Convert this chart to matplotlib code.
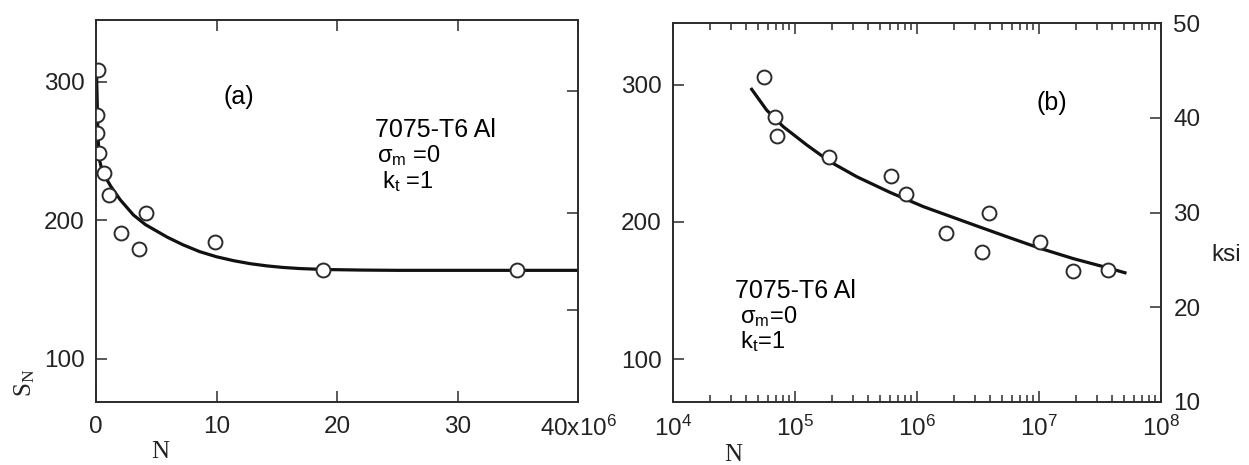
import matplotlib
matplotlib.use("Agg")
import matplotlib.pyplot as plt
from matplotlib.ticker import LogLocator, NullFormatter

plt.rcParams['font.family'] = ['Liberation Sans', 'DejaVu Sans']
plt.rcParams['mathtext.fontset'] = 'custom'
plt.rcParams['mathtext.rm'] = 'Liberation Sans'
plt.rcParams['mathtext.it'] = 'Liberation Sans:italic'
plt.rcParams['mathtext.default'] = 'regular'

# ---- data (a): linear N axis, N in millions of cycles, S in MPa
a_test_n = [0.14, 0.11, 0.11, 0.22, 0.69, 1.08, 4.12, 2.05, 3.59, 9.88, 18.8, 34.9]
a_test_s = [308.7, 276.2, 263.4, 248.9, 234.1, 218.4, 205.6, 190.8, 179.2, 184.3, 164.3, 164.3]
a_fit_n = [0.05, 0.15, 0.25, 0.5, 0.8, 1.2, 2.0, 3.1, 4.1, 5.9, 7.2, 8.6, 10.0, 11.4, 12.8,
           14.2, 15.5, 16.9, 19, 22, 25, 32, 40]
a_fit_s = [303, 265, 245, 236, 231, 225, 215, 204, 197, 188, 182.5, 177.5, 173.8, 171, 168.8,
           167.2, 166.1, 165.3, 164.6, 164.2, 164, 164, 164]

# ---- data (b): log N axis
b_test_n = [5.57e4, 6.86e4, 7.16e4, 1.91e5, 6.12e5, 8.07e5, 1.72e6, 3.87e6, 3.39e6,
            1.02e7, 1.89e7, 3.70e7]
b_test_s = [305.7, 276.1, 262.7, 247.5, 233.6, 220.3, 192.2, 206.3, 178.3, 185.4, 164.3, 165.0]
b_fit_n = [4.42e4, 5.86e4, 8.02e4, 1.25e5, 1.94e5, 3.21e5, 6.01e5, 1.13e6, 2.11e6, 2.89e6,
           5.43e6, 1.02e7, 1.91e7, 3.59e7, 5.07e7]
b_fit_s = [296.5, 281.4, 269.3, 256.0, 243.8, 232.9, 221.5, 211.1, 202.4, 198.0,
           189.3, 180.8, 173.3, 166.8, 163.0]

KSI = 6.895
ksi_lim = (10, 50)
s_lim = (ksi_lim[0] * KSI, ksi_lim[1] * KSI)
s_ticks = [100, 200, 300]
ksi_ticks = [10, 20, 30, 40, 50]
a_ksi_marks = [19.6, 29.8, 42.6]
a_xticks = [0, 10, 20, 30, 40]
a_xlabels = ['0', '10', '20', '30', '40x10$^{6}$']

ink = '#2b2b2b'
txt = '#222222'
fig = plt.figure(figsize=(12.49, 4.65), dpi=100)
axa = fig.add_axes([0.0769, 0.1355, 0.3859, 0.8215])
axb = fig.add_axes([0.5388, 0.1355, 0.3907, 0.8150])

for ax in (axa, axb):
    for sp in ax.spines.values():
        sp.set_linewidth(1.2)
        sp.set_color(ink)
    ax.set_ylim(*s_lim)
    ax.set_yticks(s_ticks)
    ax.tick_params(which='both', direction='in', top=True, right=False,
                   colors=ink, labelcolor=txt, labelsize=17.5, width=1.1)
    ax.tick_params(axis='y', which='major', length=8, pad=8)
    ax.tick_params(axis='x', which='major', length=8, pad=10)
    ax.tick_params(axis='x', which='minor', length=5)

# panel (a)
axa.plot(a_fit_n, a_fit_s, color='#111111', lw=2.3, zorder=2)
axa.plot(a_test_n, a_test_s, 'o', ms=10, mfc='white', mec=ink, mew=1.4, zorder=3)
axa.set_xlim(0, 40)
axa.set_xticks(a_xticks)
axa.set_xticklabels(a_xlabels)
tw = axa.twinx()
tw.set_ylim(*ksi_lim)
tw.set_yticks(a_ksi_marks)
tw.set_yticklabels([])
tw.tick_params(direction='in', length=8, width=1.1, colors=ink)
for sp in tw.spines.values():
    sp.set_linewidth(1.2)
    sp.set_color(ink)

axa.text(0.297, 0.798, '(a)', transform=axa.transAxes, fontsize=18, ha='center', va='center')
axa.text(0.579, 0.712, '7075-T6 Al', transform=axa.transAxes, fontsize=18, va='center')
axa.text(0.583, 0.645, r'$\sigma_{m}$ =0', transform=axa.transAxes, fontsize=17, va='center')
axa.text(0.593, 0.578, r'k$_{t}$ =1', transform=axa.transAxes, fontsize=17, va='center')

# panel (b)
axb.plot(b_fit_n, b_fit_s, color='#111111', lw=2.3, zorder=2)
axb.plot(b_test_n, b_test_s, 'o', ms=10, mfc='white', mec=ink, mew=1.4, zorder=3)
axb.set_xscale('log')
axb.set_xlim(1e4, 1e8)
axb.xaxis.set_major_locator(LogLocator(base=10, numticks=10))
axb.xaxis.set_minor_locator(LogLocator(base=10, subs=range(2, 10), numticks=20))
axb.xaxis.set_minor_formatter(NullFormatter())
tb = axb.twinx()
tb.set_ylim(*ksi_lim)
tb.set_yticks(ksi_ticks)
tb.tick_params(direction='in', length=8, width=1.1, colors=ink, labelcolor=txt,
               labelsize=17.5, pad=9)
for sp in tb.spines.values():
    sp.set_linewidth(1.2)
    sp.set_color(ink)

axb.text(0.777, 0.789, '(b)', transform=axb.transAxes, fontsize=18, ha='center', va='center')
axb.text(0.127, 0.292, '7075-T6 Al', transform=axb.transAxes, fontsize=18, va='center')
axb.text(0.137, 0.225, r'$\sigma_{m}$=0', transform=axb.transAxes, fontsize=17, va='center')
axb.text(0.137, 0.160, r'k$_{t}$=1', transform=axb.transAxes, fontsize=17, va='center')

# axis titles
serif = ['Liberation Serif', 'DejaVu Serif']
fig.text(0.020, 0.176, r'S$_{N}$', rotation=90, fontsize=18, family=serif,
         ha='center', va='center', color=txt)
fig.text(0.128, 0.028, 'N', fontsize=18, family=serif, ha='center', va='center', color=txt)
fig.text(0.587, 0.022, 'N', fontsize=18, family=serif, ha='center', va='center', color=txt)
fig.text(0.982, 0.452, 'ksi', fontsize=17.5, ha='center', va='center', color=txt)

fig.savefig('out.png', dpi=100)
